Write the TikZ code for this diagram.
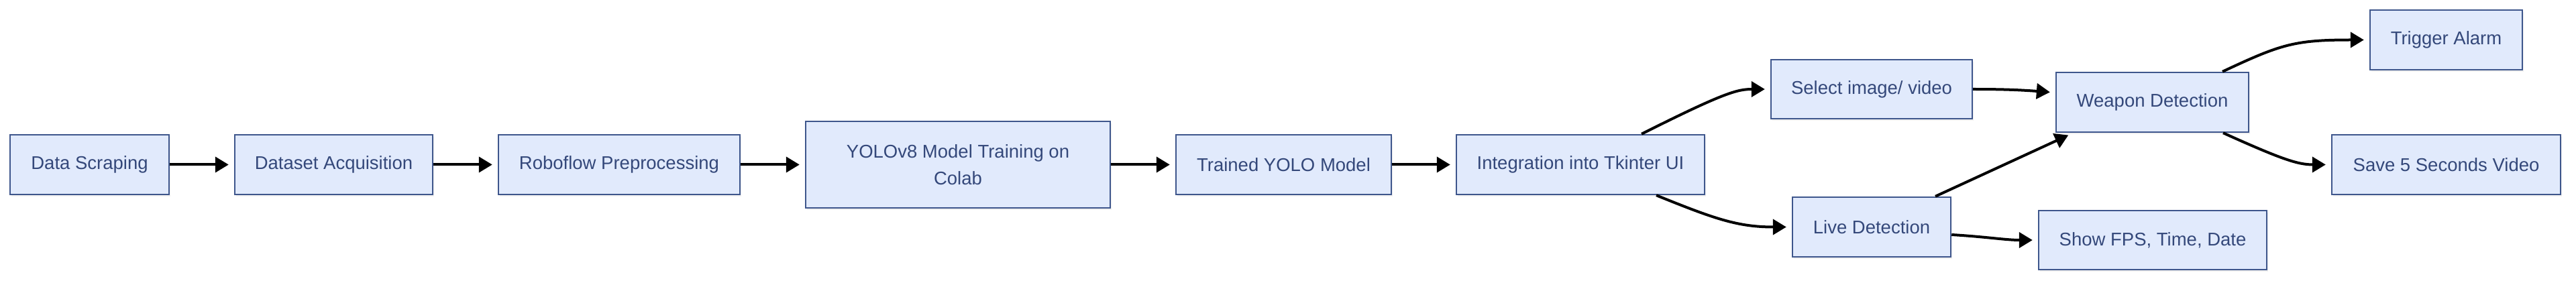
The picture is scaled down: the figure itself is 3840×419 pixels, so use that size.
\documentclass[tikz,border=0pt]{standalone}
\usepackage{fontspec}
\setmainfont{Liberation Sans}
\usetikzlibrary{arrows.meta,shadows}
\definecolor{boxfill}{RGB}{225,234,252}
\definecolor{boxline}{RGB}{62,86,140}
\definecolor{boxtext}{RGB}{52,72,122}
\begin{document}
\begin{tikzpicture}[x=1pt,y=-1pt,
  box/.style={draw=boxline, fill=boxfill, line width=2.4pt, text=boxtext,
    font=\fontsize{27.5}{40}\selectfont, inner sep=0pt, align=center,
    drop shadow={opacity=0.12, shadow xshift=2pt, shadow yshift=-3pt}},
  flow/.style={line width=4pt, -{Triangle[length=20pt,width=23pt]}, shorten >=8pt}]
\useasboundingbox (0,0) rectangle (3840,419);
\node[box, minimum width=237pt, minimum height=89pt] (ds) at (133.5,245.5) {Data Scraping};
\node[box, minimum width=295pt, minimum height=89pt] (da) at (497.5,245.5) {Dataset Acquisition};
\node[box, minimum width=360pt, minimum height=89pt] (rp) at (923,245.5) {Roboflow Preprocessing};
\node[box, minimum width=454pt, minimum height=129pt] (yolo) at (1428,245.5) {YOLOv8 Model Training on\\Colab};
\node[box, minimum width=321pt, minimum height=89pt] (tym) at (1913.5,245.5) {Trained YOLO Model};
\node[box, minimum width=370pt, minimum height=89pt] (int) at (2356,245.5) {Integration into Tkinter UI};
\node[box, minimum width=300pt, minimum height=88pt] (sel) at (2790,133) {Select image/ video};
\node[box, minimum width=236pt, minimum height=89pt] (live) at (2790,338.5) {Live Detection};
\node[box, minimum width=287pt, minimum height=89pt] (wd) at (3208.5,152.5) {Weapon Detection};
\node[box, minimum width=340pt, minimum height=88pt] (fps) at (3209,358) {Show FPS, Time, Date};
\node[box, minimum width=227pt, minimum height=89pt] (trig) at (3646.5,59.5) {Trigger Alarm};
\node[box, minimum width=341pt, minimum height=89pt] (save) at (3646.5,245.5) {Save 5 Seconds Video};
\draw[flow] (ds.east) -- (da.west);
\draw[flow] (da.east) -- (rp.west);
\draw[flow] (rp.east) -- (yolo.west);
\draw[flow] (yolo.east) -- (tym.west);
\draw[flow] (tym.east) -- (int.west);
\draw[flow] ([xshift=91pt]int.north) .. controls (2570,138) and (2590,133) .. (sel.west);
\draw[flow] ([xshift=113pt]int.south) .. controls (2555,326) and (2590,338.5) .. (live.west);
\draw[flow] (sel.east) .. controls (2985,133) and (3010,134) .. ([yshift=14.5pt]wd.west);
\draw[flow] ([xshift=95pt]live.north) -- ([xshift=-118pt]wd.south);
\draw[flow] ([yshift=-11.5pt]live.east) .. controls (2960,353) and (2990,358) .. (fps.west);
\draw[flow] ([xshift=104.5pt]wd.north) .. controls (3400,66) and (3420,59.5) .. (trig.west);
\draw[flow] ([xshift=105.5pt]wd.south) .. controls (3400,237) and (3425,245.5) .. (save.west);
\end{tikzpicture}
\end{document}
